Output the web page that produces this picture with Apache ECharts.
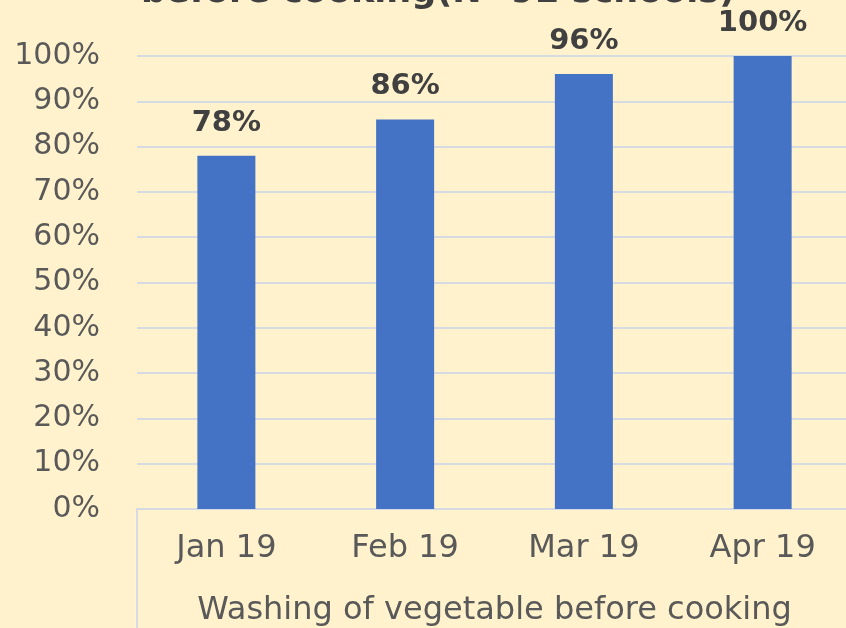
<!DOCTYPE html>
<html><head><meta charset="utf-8">
<script src="https://cdn.jsdelivr.net/npm/echarts@6/dist/echarts.min.js"></script>
<style>html,body{margin:0;padding:0;background:#FFF2CC}#c{width:846px;height:628px}</style>
</head><body><div id="c"></div>
<script>
const categories = ['Jan 19', 'Feb 19', 'Mar 19', 'Apr 19'];
const groupLabels = ['Washing of vegetable before cooking'];
const values = [78, 86, 96, 100];
const titleText = 'before cooking(N=92 schools)';

const FONT = 'DejaVu Sans';
const chart = echarts.init(document.getElementById('c'));
chart.setOption({
  backgroundColor: '#FFF2CC',
  animation: false,
  title: {
    text: titleText, left: 433, textAlign: 'center', top: -30,
    textStyle: { fontFamily: FONT, fontSize: 35, fontWeight: 'bold', color: '#404040' }
  },
  grid: { left: 137, width: 715, top: 56, height: 453, containLabel: false, outerBoundsMode: 'none' },
  xAxis: [{
    type: 'category', data: categories, position: 'bottom',
    axisLine: { show: true, lineStyle: { color: '#D5DAE3', width: 2 } },
    axisTick: { show: false },
    axisLabel: { fontFamily: FONT, fontSize: 32, color: '#595959', margin: 24 }
  }, {
    type: 'category', data: groupLabels, position: 'bottom',
    axisLine: { show: false },
    axisTick: { show: true, length: 125, lineStyle: { color: '#D5DAE3', width: 2 } },
    axisLabel: { fontFamily: FONT, fontSize: 32, color: '#595959', margin: 86 }
  }],
  yAxis: {
    type: 'value', min: 0, max: 100, interval: 10,
    axisLine: { show: false }, axisTick: { show: false },
    splitLine: { lineStyle: { color: '#D5DAE3', width: 2 } },
    axisLabel: { fontFamily: FONT, fontSize: 30, color: '#595959', formatter: '{value}%', margin: 37 }
  },
  series: [{
    type: 'bar', data: values, xAxisIndex: 0, barWidth: 58,
    itemStyle: { color: '#4472C4' },
    label: { show: true, position: 'top', distance: 18, formatter: '{c}%',
      fontFamily: FONT, fontSize: 29, fontWeight: 'bold', color: '#404040' }
  }]
});
</script></body></html>
